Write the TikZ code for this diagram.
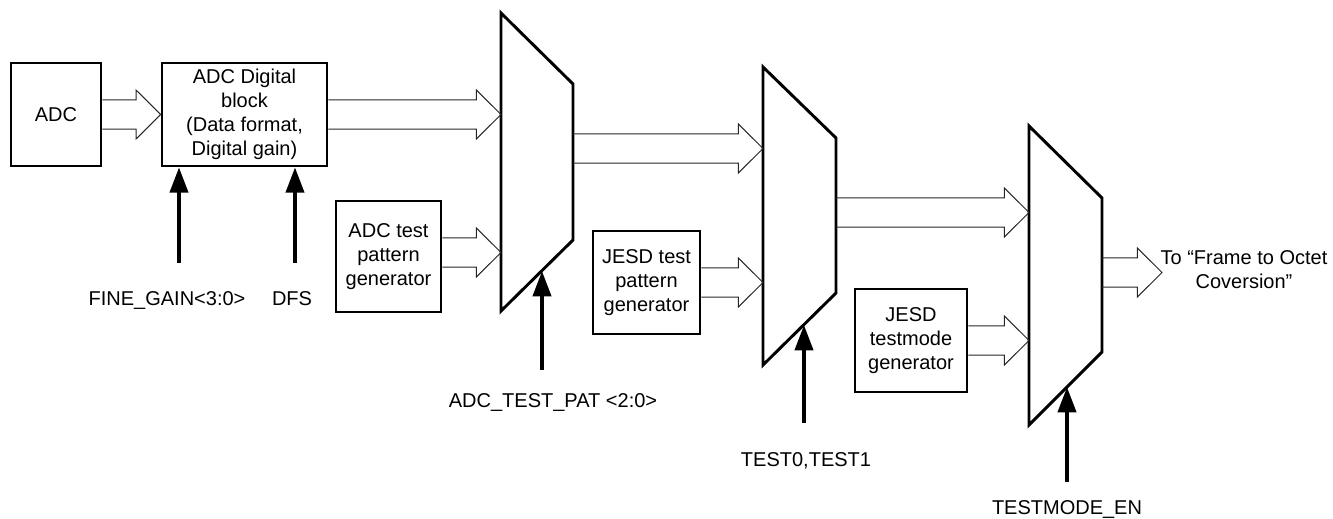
\documentclass[tikz,border=0pt]{standalone}
\usepackage{fontspec}
\setmainfont{Liberation Sans}
\usetikzlibrary{arrows.meta,calc}
\newcommand{\busarrow}[2]{\draw[bus] let \p1=(#1),\p2=(#2) in (\x1,\y2+10.9pt) -- (\x2-18.5pt,\y2+10.9pt) -- (\x2-18.5pt,\y2+18.4pt) -- (\x2,\y2) -- (\x2-18.5pt,\y2-18.4pt) -- (\x2-18.5pt,\y2-10.9pt) -- (\x1,\y2-10.9pt);}
\begin{document}
\begin{tikzpicture}[x=0.75pt,y=-0.75pt,
  txt/.style={font=\fontsize{15}{18}\selectfont},
  blk/.style={draw,line width=2pt,inner sep=0pt,align=center,txt},
  muxshape/.style={draw,line width=2.2pt,line join=miter},
  bus/.style={draw=black!85,line width=0.75pt,line join=miter},
  sel/.style={line width=3pt,-{Triangle[width=13.5pt,length=19pt]}},
  lbl/.style={txt,inner sep=0pt,anchor=base}]
\useasboundingbox (0,0) rectangle (1333,518);

% blocks
\node[blk,minimum width=67.5pt,minimum height=77.25pt] (adc) at (56,114.5) {ADC};
\node[blk,minimum width=123.75pt,minimum height=77.25pt] (dig) at (244.5,114.5) {ADC Digital\\block\\(Data format,\\Digital gain)};
\node[blk,minimum width=78.75pt,minimum height=83.25pt] (adct) at (388.5,256.5) {ADC test\\pattern\\generator};
\node[blk,minimum width=80.25pt,minimum height=77.25pt] (jesdt) at (646.5,282.5) {JESD test\\pattern\\generator};
\node[blk,minimum width=84pt,minimum height=77.25pt] (jesdm) at (911,340.5) {JESD\\testmode\\generator};

% muxes
\coordinate (m1tl) at (501,13);  \coordinate (m1tr) at (573,84);
\coordinate (m1br) at (573,240); \coordinate (m1bl) at (501,311);
\coordinate (m2tl) at (763,67);  \coordinate (m2tr) at (836,138);
\coordinate (m2br) at (836,293); \coordinate (m2bl) at (763,365);
\coordinate (m3tl) at (1029,126); \coordinate (m3tr) at (1102,198);
\coordinate (m3br) at (1102,352); \coordinate (m3bl) at (1029,425);
\draw[muxshape] (m1tl) -- (m1tr) -- (m1br) -- (m1bl) -- cycle;
\draw[muxshape] (m2tl) -- (m2tr) -- (m2br) -- (m2bl) -- cycle;
\draw[muxshape] (m3tl) -- (m3tr) -- (m3br) -- (m3bl) -- cycle;

% mux ports
\coordinate (m1a) at (501,114.5);
\coordinate (m1b) at (501,252.5);
\coordinate (m1o) at (573,148.5);
\coordinate (m2a) at (763,148.5);
\coordinate (m2b) at (763,282.5);
\coordinate (m2o) at (836,212.5);
\coordinate (m3a) at (1029,212.5);
\coordinate (m3b) at (1029,340.5);
\coordinate (m3o) at (1102,272.5);
\coordinate (outt) at (1162,272.5);

% buses
\busarrow{adc.east}{dig.west}
\busarrow{dig.east}{m1a}
\busarrow{adct.east}{m1b}
\busarrow{m1o}{m2a}
\busarrow{jesdt.east}{m2b}
\busarrow{m2o}{m3a}
\busarrow{jesdm.east}{m3b}
\busarrow{m3o}{outt}

\node[txt,align=center,inner sep=0pt] (outlbl) at (1244,270) {To “Frame to Octet\\Coversion”};

% select / control arrows
\coordinate (fg) at (179,263);
\coordinate (dfs) at (295,263);
\coordinate (s1) at (542,370); \coordinate (s1t) at (542,271);
\coordinate (s2) at (804,423); \coordinate (s2t) at (804,325);
\coordinate (s3) at (1067,482); \coordinate (s3t) at (1067,387);
\draw[sel] (fg) -- (fg |- dig.south);
\draw[sel] (dfs) -- (dfs |- dig.south);
\draw[sel] (s1) -- (s1t);
\draw[sel] (s2) -- (s2t);
\draw[sel] (s3) -- (s3t);

% labels
\node[lbl] (lfg) at (167,305) {FINE\_GAIN<3:0>};
\node[lbl] (ldfs) at (292,305) {DFS};
\node[lbl] (lpat) at (553,407) {ADC\_TEST\_PAT <2:0>};
\node[lbl] (ltest) at (806,466) {TEST0,TEST1};
\node[lbl] (ltm) at (1067,514) {TESTMODE\_EN};
\end{tikzpicture}
\end{document}
